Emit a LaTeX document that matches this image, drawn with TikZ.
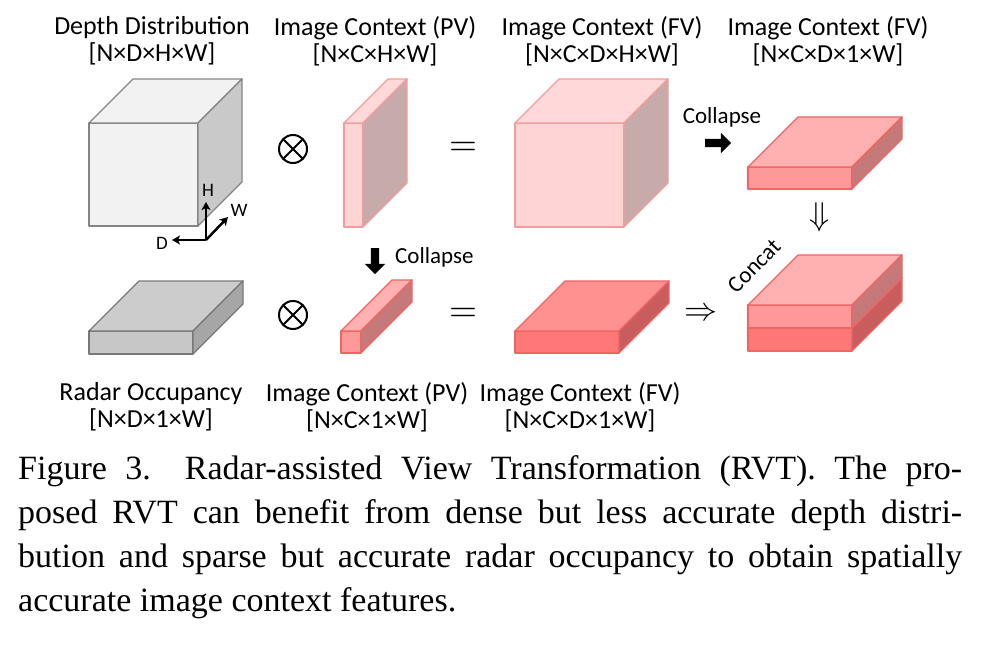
\documentclass[tikz,border=0pt]{standalone}
\usepackage{fontspec}
\setmainfont{Carlito}
\newfontfamily\capfont{Liberation Serif}
\usetikzlibrary{shapes.arrows,arrows.meta}

\definecolor{greyedge}{HTML}{858585}
\definecolor{pinkedge}{HTML}{F49C9C}
\definecolor{rededge}{HTML}{F06464}

% x y w h depth front top side
\newcommand{\cuboid}[9][]{%
  \filldraw[line join=round,line width=1.3pt,#1,fill=#7] (#2,#3) rectangle ({#2+#4},{#3+#5});
  \filldraw[line join=round,line width=1.3pt,#1,fill=#8] (#2,#3) -- ({#2+#6},{#3-#6}) -- ({#2+#4+#6},{#3-#6}) -- ({#2+#4},#3) -- cycle;
  \filldraw[line join=round,line width=1.3pt,#1,fill=#9] ({#2+#4},#3) -- ({#2+#4+#6},{#3-#6}) -- ({#2+#4+#6},{#3+#5-#6}) -- ({#2+#4},{#3+#5}) -- cycle;
}
\newcommand{\bigsym}[2]{\scalebox{#1}{$#2$}}

\begin{document}
\begin{tikzpicture}[x=1pt,y=-1pt]
\tikzstyle{every node}+=[inner sep=0pt]
\tikzstyle{lbl}=[align=center,font=\fontsize{26}{27}\selectfont]
\tikzstyle{small}=[font=\fontsize{23}{23}\selectfont]
\tikzstyle{axislbl}=[font=\fontsize{19}{19}\selectfont]
\tikzstyle{fat}=[single arrow,fill=black,minimum height=26pt,inner sep=4pt,
  single arrow head extend=6pt,single arrow head indent=0pt]
\tikzstyle{axisarrow}=[-{Stealth[length=8pt,width=9pt,inset=2pt]},line width=2.5pt]
\tikzstyle{otimes}=[circle,draw,line width=2pt,minimum size=28pt,
  path picture={\draw[line width=2pt] (path picture bounding box.north west) -- (path picture bounding box.south east)
    (path picture bounding box.north east) -- (path picture bounding box.south west);}]

\useasboundingbox (0,0) rectangle (988,656);

% top row
\cuboid[draw=greyedge]{89}{123}{109}{103}{44}{white!95!black}{white!95!black}{white!79!black}
\cuboid[draw=pinkedge]{344}{123}{19}{104}{44}{red!17!white}{red!15!white}{red!20!gray!55!white}
\cuboid[draw=pinkedge]{515}{123}{109}{104}{44}{red!17!white}{red!15!white}{red!20!gray!55!white}
\cuboid[draw=rededge]{748}{167}{104}{22}{50}{red!40!white}{red!31!white}{red!40!gray!75!white}

% bottom row
\cuboid[draw=greyedge!90!black]{89}{331}{104}{23}{50}{white!78!black}{white!80!black}{white!65!black}
\cuboid[draw=rededge]{341}{331}{20}{22}{51}{red!40!white}{red!31!white}{red!40!gray!75!white}
\cuboid[draw=rededge]{515}{331}{104}{22}{50}{red!53!white}{red!43!white}{red!50!gray!85!white}
\cuboid[draw=rededge]{748}{328}{104}{23}{50}{red!53!white}{red!43!white}{red!50!gray!85!white}
\cuboid[draw=rededge]{748}{305}{104}{23}{50}{red!40!white}{red!31!white}{red!40!gray!75!white}

% axes
\coordinate (org) at (206,240);
\coordinate (hend) at (206,202);
\coordinate (wend) at (228,217);
\coordinate (dend) at (172,240);
\draw[axisarrow] (org) -- (hend);
\draw[axisarrow] (org) -- (wend);
\draw[axisarrow] (org) -- (dend);
\node[axislbl] (hl) at (208,190) {H};
\node[axislbl] (wl) at (239,210) {W};
\node[axislbl] (dl) at (162,243) {D};

% labels
\node[lbl] (depth) at (152,41) {Depth Distribution\\{}[N×D×H×W]};
\node[lbl] (pvtop) at (375,41) {Image Context (PV)\\{}[N×C×H×W]};
\node[lbl] (fvtop) at (602,41) {Image Context (FV)\\{}[N×C×D×H×W]};
\node[lbl] (fvcol) at (828,41) {Image Context (FV)\\{}[N×C×D×1×W]};
\node[lbl] (radar) at (151,407) {Radar Occupancy\\{}[N×D×1×W]};
\node[lbl] (pvbot) at (367,407) {Image Context (PV)\\{}[N×C×1×W]};
\node[lbl] (fvbot) at (580,407) {Image Context (FV)\\{}[N×C×D×1×W]};

% operators
\node[otimes] (mul1) at (293,149) {};
\node[otimes] (mul2) at (293,315) {};
\node (eq1) at (463,149) {\bigsym{3.6}{=}};
\node (eq2) at (463,315) {\bigsym{3.6}{=}};
\node (imp) at (701,314) {\bigsym{3.3}{\Rightarrow}};
\node (down) at (820,217) {\bigsym{3.3}{\Downarrow}};

% collapse / concat
\node[fat,shape border rotate=270] (coldown) at (375,259) {};
\node[small,anchor=west] (coltxt1) at (395,257) {Collapse};
\node[fat] (colright) at (716,143) {};
\node[small] (coltxt2) at (722,117) {Collapse};
\node[small,rotate=45] (concat) at (754,266) {Concat};

% caption
\node[anchor=base west] (cap) at (18,479) {\parbox[t]{944pt}{\capfont\fontsize{34}{44}\selectfont
Figure 3.\quad Radar-assisted View Transformation (RVT). The pro-\linebreak
posed RVT can benefit from dense but less accurate depth distri-\linebreak
bution and sparse but accurate radar occupancy to obtain spatially\linebreak
accurate image context features.}};
\end{tikzpicture}
\end{document}
